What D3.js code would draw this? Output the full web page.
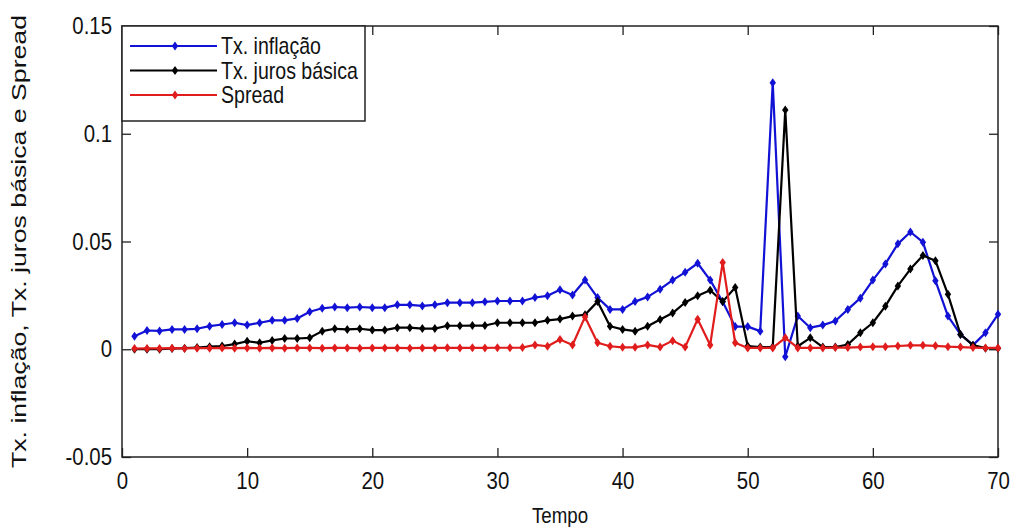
<!DOCTYPE html>
<html>
<head>
<meta charset="utf-8">
<script src="https://cdn.jsdelivr.net/npm/d3@7"></script>
<style>
  body { margin: 0; background: #fff; }
  text { font-family: "Liberation Sans", Arial, sans-serif; fill: #111; }
</style>
</head>
<body>
<svg width="1012" height="527"></svg>
<script>
const tempo = d3.range(1, 71);

const inflacao = [
  0.0060, 0.0087, 0.0085, 0.0092, 0.0092, 0.0095, 0.0107, 0.0115, 0.0123, 0.0112,
  0.0123, 0.0134, 0.0134, 0.0143, 0.0174, 0.0190, 0.0196, 0.0193, 0.0196, 0.0193,
  0.0193, 0.0206, 0.0206, 0.0201, 0.0206, 0.0216, 0.0216, 0.0216, 0.0220, 0.0224,
  0.0224, 0.0224, 0.0240, 0.0248, 0.0276, 0.0252, 0.0321, 0.0240, 0.0185, 0.0185,
  0.0221, 0.0243, 0.0279, 0.0321, 0.0357, 0.0399, 0.0321, 0.0220, 0.0105, 0.0105,
  0.0084, 0.1237, -0.0035, 0.0154, 0.0100, 0.0112, 0.0131, 0.0185, 0.0237, 0.0321,
  0.0396, 0.0489, 0.0544, 0.0497, 0.0318, 0.0154, 0.0069, 0.0019, 0.0076, 0.0162
];

const juros = [
  0.0000, 0.0000, 0.0000, 0.0003, 0.0005, 0.0008, 0.0012, 0.0015, 0.0024, 0.0037,
  0.0030, 0.0041, 0.0050, 0.0050, 0.0053, 0.0084, 0.0095, 0.0092, 0.0095, 0.0089,
  0.0089, 0.0100, 0.0100, 0.0096, 0.0096, 0.0109, 0.0109, 0.0110, 0.0110, 0.0123,
  0.0123, 0.0123, 0.0123, 0.0134, 0.0140, 0.0154, 0.0160, 0.0221, 0.0107, 0.0092,
  0.0084, 0.0107, 0.0138, 0.0168, 0.0217, 0.0248, 0.0274, 0.0221, 0.0287, 0.0015,
  0.0010, 0.0010, 0.1110, 0.0014, 0.0053, 0.0010, 0.0010, 0.0022, 0.0076, 0.0123,
  0.0200, 0.0294, 0.0372, 0.0435, 0.0411, 0.0255, 0.0069, 0.0019, 0.0005, 0.0005
];

const spread = [
  0.0003, 0.0004, 0.0004, 0.0005, 0.0004, 0.0005, 0.0005, 0.0006, 0.0005, 0.0006,
  0.0005, 0.0006, 0.0005, 0.0006, 0.0006, 0.0005, 0.0006, 0.0006, 0.0005, 0.0006,
  0.0006, 0.0006, 0.0005, 0.0006, 0.0006, 0.0007, 0.0006, 0.0007, 0.0006, 0.0007,
  0.0007, 0.0008, 0.0020, 0.0014, 0.0045, 0.0020, 0.0150, 0.0030, 0.0014, 0.0009,
  0.0009, 0.0020, 0.0010, 0.0040, 0.0010, 0.0139, 0.0020, 0.0403, 0.0030, 0.0006,
  0.0006, 0.0006, 0.0053, 0.0006, 0.0006, 0.0006, 0.0008, 0.0008, 0.0010, 0.0012,
  0.0012, 0.0015, 0.0018, 0.0018, 0.0016, 0.0012, 0.0010, 0.0008, 0.0006, 0.0006
];

const seriesNames = ["Tx. inflação", "Tx. juros básica", "Spread"];
const seriesColors = ["#1212d6", "#000000", "#e01c1c"];
const xTicks = [0, 10, 20, 30, 40, 50, 60, 70];
const yTicks = [-0.05, 0, 0.05, 0.1, 0.15];

const svg = d3.select("svg");
const margin = {
  top: 26,
  right: 14,
  bottom: 70,
  left: 122
}
const width = +svg.attr("width") - margin.left - margin.right;
const height = +svg.attr("height") - margin.top - margin.bottom;

// the source picture is squeezed sideways, so text is narrowed a bit
const sx = 0.85;

const x = d3.scaleLinear().domain([0, 70]).range([0, width]);
const y = d3.scaleLinear().domain([-0.05, 0.15]).range([height, 0]);

const g = svg.append("g")
  .attr("transform", `translate(${margin.left},${margin.top})`);

const fmtY = d => d === 0 ? "0" : String(+d.toFixed(2));

// axes with inward ticks (box style)
const tickLen = 9;
const xAxis = g.append("g")
  .attr("transform", `translate(0,${height})`)
  .call(d3.axisBottom(x).tickValues(xTicks).tickSizeInner(-tickLen).tickSizeOuter(0).tickPadding(15))
  .call(a => a.select(".domain").remove());

g.append("g")
  .call(d3.axisTop(x).tickValues(xTicks).tickSizeInner(-tickLen).tickSizeOuter(0).tickFormat(""))
  .call(a => a.select(".domain").remove());

const yAxis = g.append("g")
  .call(d3.axisLeft(y).tickValues(yTicks).tickSizeInner(-tickLen).tickSizeOuter(0).tickPadding(10).tickFormat(fmtY))
  .call(a => a.select(".domain").remove());

g.append("g")
  .attr("transform", `translate(${width},0)`)
  .call(d3.axisRight(y).tickValues(yTicks).tickSizeInner(-tickLen).tickSizeOuter(0).tickFormat(""))
  .call(a => a.select(".domain").remove());

g.selectAll(".tick line").attr("stroke", "#222").attr("stroke-width", 1.3);
g.selectAll(".tick text")
  .style("font-size", "24px")
  .style("font-family", "'Liberation Sans', Arial, sans-serif")
  .attr("fill", "#222")
  .attr("transform", `scale(${sx},1)`);
yAxis.selectAll(".tick text").attr("x", -10 / sx);

g.append("rect")
  .attr("width", width)
  .attr("height", height)
  .attr("fill", "none")
  .attr("stroke", "#222")
  .attr("stroke-width", 1.5);

// series
const allSeries = [inflacao, juros, spread];
const line = d3.line()
  .x((d, i) => x(tempo[i]))
  .y(d => y(d));

const diamond = "M0,-4.5L3.2,0L0,4.5L-3.2,0Z";

allSeries.forEach((vals, k) => {
  g.append("path")
    .datum(vals)
    .attr("fill", "none")
    .attr("stroke", seriesColors[k])
    .attr("stroke-width", 2.2)
    .attr("stroke-linejoin", "round")
    .attr("d", line);

  g.selectAll(".m" + k)
    .data(vals)
    .enter().append("path")
    .attr("class", "m" + k)
    .attr("d", diamond)
    .attr("transform", (d, i) => `translate(${x(tempo[i])},${y(d)})`)
    .attr("fill", seriesColors[k]);
});

// legend
const legend = g.append("g");
legend.append("rect")
  .attr("x", 0)
  .attr("y", 0)
  .attr("width", 243)
  .attr("height", 95)
  .attr("fill", "#fff")
  .attr("stroke", "#222")
  .attr("stroke-width", 1.5);

seriesNames.forEach((name, k) => {
  const ly = 20 + k * 24.5;
  legend.append("line")
    .attr("x1", 8).attr("x2", 95)
    .attr("y1", ly).attr("y2", ly)
    .attr("stroke", seriesColors[k])
    .attr("stroke-width", 2.2);
  legend.append("path")
    .attr("d", diamond)
    .attr("transform", `translate(53,${ly})`)
    .attr("fill", seriesColors[k]);
  legend.append("text")
    .attr("transform", `translate(99,${ly}) scale(${sx},1)`)
    .attr("dy", "0.36em")
    .style("font-size", "23px")
    .text(name);
});

// X-axis label
svg.append("text")
  .attr("transform", `translate(${margin.left + width / 2},523) scale(${sx},1)`)
  .attr("text-anchor", "middle")
  .style("font-size", "22px")
  .text("Tempo");

// Y-axis label (stretched along its length, like the source)
svg.append("text")
  .attr("transform", `translate(26,${margin.top + height / 2}) rotate(-90) scale(1.27,1)`)
  .attr("text-anchor", "middle")
  .style("font-size", "21px")
  .text("Tx. inflação, Tx. juros básica e Spread");
</script>
</body>
</html>
